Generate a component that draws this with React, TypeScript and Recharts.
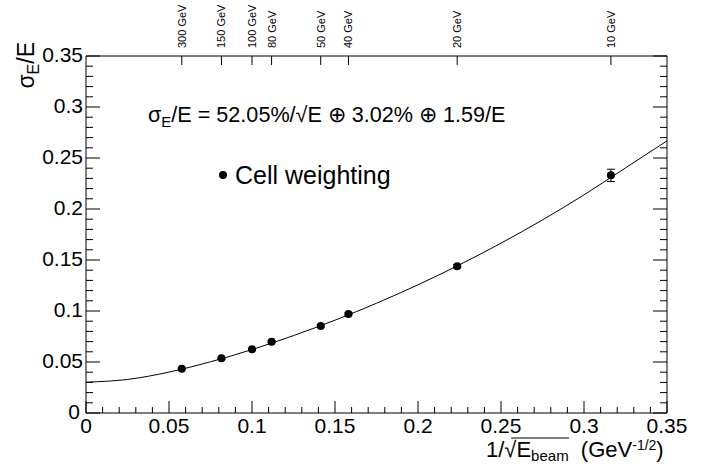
import {
  ComposedChart,
  Line,
  Scatter,
  ErrorBar,
  XAxis,
  YAxis,
} from 'recharts';

// beam energies (top axis) and their 1/sqrt(E) positions
const energyLabels = ['300 GeV', '150 GeV', '100 GeV', '80 GeV', '50 GeV', '40 GeV', '20 GeV', '10 GeV'];
const invSqrtE = [0.0577, 0.0816, 0.1, 0.1118, 0.1414, 0.1581, 0.2236, 0.3162];

// measured resolution, cell weighting
const resolution = [0.0434, 0.0536, 0.0624, 0.0699, 0.0853, 0.0971, 0.1438, 0.233];
const resolutionErr = [0.0008, 0.0008, 0.0008, 0.0008, 0.001, 0.001, 0.0015, 0.006];

// fitted curve
const fitX = [0, 0.025, 0.05, 0.075, 0.1, 0.125, 0.15, 0.175, 0.2, 0.225, 0.25, 0.275, 0.3, 0.325, 0.35];
const fitY = [0.0302, 0.0329, 0.0401, 0.0502, 0.0622, 0.0759, 0.091, 0.1076, 0.1257, 0.1453, 0.1665, 0.1893, 0.2139, 0.2403, 0.2668];

// ticks every 0.01, labelled every 0.05
const axisTicks = [
  0, 0.01, 0.02, 0.03, 0.04, 0.05, 0.06, 0.07, 0.08, 0.09, 0.1, 0.11, 0.12, 0.13, 0.14, 0.15, 0.16, 0.17,
  0.18, 0.19, 0.2, 0.21, 0.22, 0.23, 0.24, 0.25, 0.26, 0.27, 0.28, 0.29, 0.3, 0.31, 0.32, 0.33, 0.34, 0.35,
];

const points = invSqrtE.map((x, i) => ({ x, y: resolution[i], err: resolutionErr[i] }));
const fitData = fitX.map((x, i) => ({ x, y: fitY[i] }));

const font = '"Liberation Sans", Arial, Helvetica, sans-serif';
const isMajor = (v: number) => Math.round(v * 100) % 5 === 0;

const BottomTick = (props: any) => {
  const { x, y, payload } = props;
  const major = isMajor(payload.value);
  return (
    <g>
      <line x1={x} x2={x} y1={y} y2={y - (major ? 12 : 6)} stroke="#000" />
      {major && (
        <text x={x} y={y + 20} textAnchor="middle" fontSize={21} fontFamily={font} fill="#000">
          {String(payload.value)}
        </text>
      )}
    </g>
  );
};

const LeftTick = (props: any) => {
  const { x, y, payload } = props;
  const major = isMajor(payload.value);
  // the "0" sits a little further out so it clears the x-axis "0"
  const shift = payload.value === 0 ? 6 : 3;
  return (
    <g>
      <line x1={x} x2={x + (major ? 14 : 7)} y1={y} y2={y} stroke="#000" />
      {major && (
        <text x={x - shift} y={y + 6} textAnchor="end" fontSize={21} fontFamily={font} fill="#000">
          {String(payload.value)}
        </text>
      )}
    </g>
  );
};

const RightTick = (props: any) => {
  const { x, y, payload } = props;
  const major = isMajor(payload.value);
  return <line x1={x} x2={x - (major ? 14 : 7)} y1={y} y2={y} stroke="#000" />;
};

const TopTick = (props: any) => {
  const { x, y, index } = props;
  return (
    <g>
      <line x1={x} x2={x} y1={y} y2={y + 9} stroke="#000" />
      <text
        transform={`translate(${x + 4},${y - 8}) rotate(-90)`}
        fontSize={11}
        fontFamily={font}
        fill="#000"
      >
        {energyLabels[index]}
      </text>
    </g>
  );
};

const Dot = (props: any) => <circle cx={props.cx} cy={props.cy} r={4} fill="#000" />;

export default function App() {
  return (
    <div style={{ position: 'relative', width: 720, height: 466, background: '#fff' }}>
      <style>{'body{margin:0}'}</style>
      <ComposedChart width={720} height={466} margin={{ top: 16, right: 33, bottom: 13, left: 26 }}>
        <XAxis
          xAxisId="b"
          dataKey="x"
          type="number"
          domain={[0, 0.35]}
          ticks={axisTicks}
          interval={0}
          height={40}
          tickSize={0}
          tickMargin={0}
          tickLine={false}
          axisLine={{ stroke: '#000' }}
          tick={<BottomTick />}
        />
        <XAxis
          xAxisId="t"
          dataKey="x"
          orientation="top"
          type="number"
          domain={[0, 0.35]}
          ticks={invSqrtE}
          interval={0}
          height={40}
          tickSize={0}
          tickMargin={0}
          tickLine={false}
          axisLine={{ stroke: '#000' }}
          tick={<TopTick />}
        />
        <YAxis
          yAxisId="l"
          dataKey="y"
          type="number"
          domain={[0, 0.35]}
          ticks={axisTicks}
          interval={0}
          width={60}
          tickSize={0}
          tickMargin={0}
          tickLine={false}
          axisLine={{ stroke: '#000' }}
          tick={<LeftTick />}
        />
        <YAxis
          yAxisId="r"
          dataKey="y"
          orientation="right"
          type="number"
          domain={[0, 0.35]}
          ticks={axisTicks}
          interval={0}
          width={20}
          tickSize={0}
          tickMargin={0}
          tickLine={false}
          axisLine={{ stroke: '#000' }}
          tick={<RightTick />}
        />
        <Line
          xAxisId="b"
          yAxisId="l"
          data={fitData}
          dataKey="y"
          type="monotone"
          stroke="#000"
          strokeWidth={1}
          dot={false}
          activeDot={false}
          isAnimationActive={false}
        />
        <Scatter
          xAxisId="b"
          yAxisId="l"
          data={points}
          dataKey="y"
          shape={<Dot />}
          isAnimationActive={false}
        >
          <ErrorBar dataKey="err" direction="y" width={4} stroke="#000" strokeWidth={1} />
        </Scatter>
        {/* hidden series so the top and right axes get scales */}
        <Scatter xAxisId="t" yAxisId="r" data={points} dataKey="y" shape={() => null} isAnimationActive={false} />
      </ComposedChart>

      <svg
        width={720}
        height={466}
        style={{ position: 'absolute', left: 0, top: 0, pointerEvents: 'none' }}
        fontFamily={font}
      >
        {/* y title */}
        <text transform="translate(34,42) rotate(-90)" textAnchor="end" fontSize={23} fill="#000">
          σ
          <tspan dy={5} fontSize={16}>E</tspan>
          <tspan dy={-5}>/E</tspan>
        </text>

        {/* fit formula */}
        <text x={148} y={122} fontSize={21.6} fill="#000">
          σ
          <tspan dy={5} fontSize={15}>E</tspan>
          <tspan dy={-5}>/E = 52.05%/√E ⊕ 3.02% ⊕ 1.59/E</tspan>
        </text>

        {/* legend */}
        <circle cx={223} cy={175} r={4} fill="#000" />
        <text x={235} y={184} fontSize={25} fill="#000">
          Cell weighting
        </text>

        {/* x title */}
        <text x={486} y={457} fontSize={22} fill="#000" xmlSpace="preserve">
          1/√E
          <tspan dy={4} fontSize={15}>beam</tspan>
          <tspan dy={-4}>{'  (GeV'}</tspan>
          <tspan dy={-7} fontSize={14}>-1/2</tspan>
          <tspan dy={7}>)</tspan>
        </text>
        <line x1={511} x2={569} y1={438} y2={438} stroke="#000" strokeWidth={1} />
      </svg>
    </div>
  );
}
